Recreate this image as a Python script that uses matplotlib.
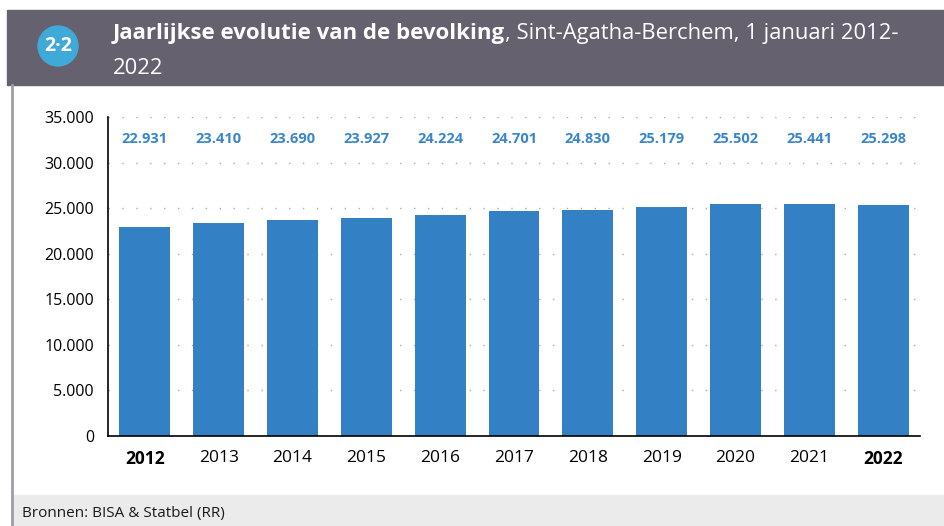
import matplotlib.pyplot as plt
from matplotlib.patches import Rectangle, Circle
import numpy as np

# Data
years = ['2012', '2013', '2014', '2015', '2016', '2017', '2018', '2019', '2020', '2021', '2022']
population = [22931, 23410, 23690, 23927, 24224, 24701, 24830, 25179, 25502, 25441, 25298]
bold_years = ['2012', '2022']

bar_color = '#3380c4'
label_color = '#3a86c8'
header_color = '#65616f'

plt.rcParams['font.family'] = ['Open Sans', 'DejaVu Sans']

W, H = 945, 526
fig = plt.figure(figsize=(W / 100, H / 100), dpi=100)

# Header band
fig.patches.append(Rectangle((7 / W, 1 - 85 / H), 1 - 7 / W, 75 / H,
                             transform=fig.transFigure, color=header_color, zorder=0))
# Footer band
fig.patches.append(Rectangle((12 / W, 0), 1 - 12 / W, 31 / H,
                             transform=fig.transFigure, color='#ebebeb', zorder=0))
# Left border line
fig.lines.append(plt.Line2D([12 / W, 12 / W], [0, 1 - 85 / H], transform=fig.transFigure,
                            color='#a09cab', lw=2))

# Badge (drawn in inches so it stays round)
badge = Circle((58 / 100, (H - 46) / 100), 20 / 100, transform=fig.dpi_scale_trans,
               color='#3fa9d8', zorder=1)
fig.patches.append(badge)
fig.text(58 / W, 1 - 46 / H, '2·2', color='white', fontsize=14, fontweight='bold',
         ha='center', va='center')

# Title
t1 = fig.text(113 / W, 1 - 33 / H, 'Jaarlijkse evolutie van de bevolking', color='white',
              fontsize=16, fontweight='bold', va='center', ha='left')
fig.canvas.draw()
bb = t1.get_window_extent()
fig.text(bb.x1 / W, 1 - 33 / H, ', Sint-Agatha-Berchem, 1 januari 2012-', color='white',
         fontsize=15.8, va='center', ha='left')
fig.text(113 / W, 1 - 68 / H, '2022', color='white', fontsize=15.8, va='center', ha='left')

# Footer text
fig.text(22 / W, 1 - 514 / H, 'Bronnen: BISA & Statbel (RR)', color='#1a1a1a',
         fontsize=11, va='center', ha='left')

# Chart
ax = fig.add_axes([108 / W, 1 - 436 / H, (920 - 108) / W, (436 - 117) / H])
x = np.arange(len(years))
ax.bar(x, population, width=0.69, color=bar_color, zorder=2)
ax.set_xlim(-0.5, len(years) - 0.5)
ax.set_ylim(0, 35000)
yt = np.arange(0, 35001, 5000)
ax.set_yticks(yt)
ax.set_yticklabels([f'{v:,}'.replace(',', '.') for v in yt], fontsize=11.5)
ax.set_xticks(x)
ax.set_xticklabels(years, fontsize=12.5)
for lbl in ax.get_xticklabels():
    if lbl.get_text() in bold_years:
        lbl.set_fontweight('bold')
ax.tick_params(length=0, pad=10)
ax.tick_params(axis='x', pad=10)
for s in ['top', 'right']:
    ax.spines[s].set_visible(False)
ax.spines['left'].set_linewidth(1.2)
ax.spines['bottom'].set_linewidth(1.2)
for v in yt[1:]:
    ax.axhline(v, color='#aaaaaa', lw=1, linestyle=(0, (1, 9)), zorder=1)

for xi, v in zip(x, population):
    ax.text(xi, 0.93, f'{v:,}'.replace(',', '.'), transform=ax.get_xaxis_transform(),
            ha='center', va='center', color=label_color, fontsize=10.5, fontweight='bold')

fig.savefig('out.png', dpi=100)
